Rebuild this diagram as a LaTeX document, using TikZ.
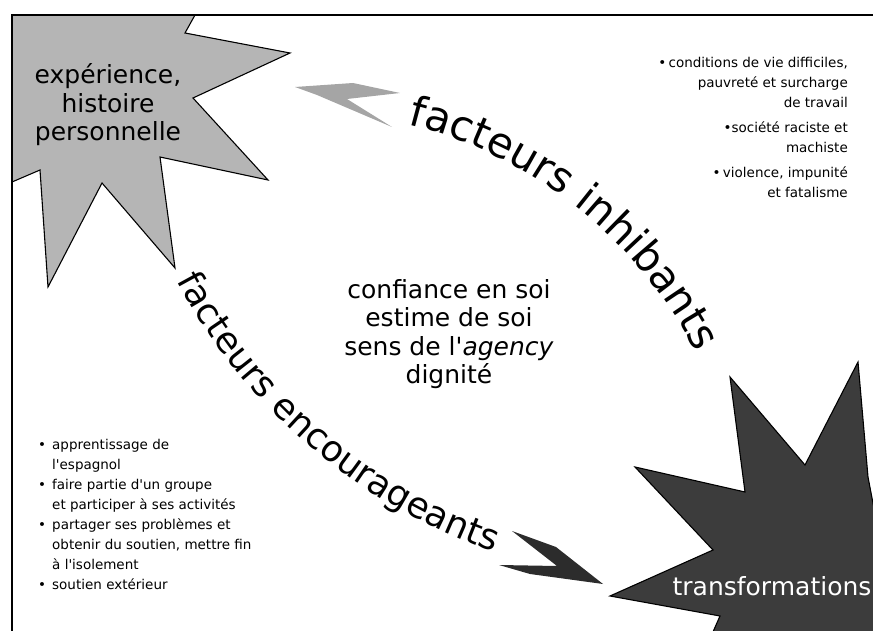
\documentclass[tikz,border=0pt]{standalone}
\usepackage{fontspec}
\setmainfont{DejaVu Sans}
\usetikzlibrary{decorations.text}
\definecolor{starlight}{HTML}{B5B5B5}
\definecolor{stardark}{HTML}{3C3C3C}
\definecolor{chevlight}{HTML}{A5A5A5}
\definecolor{chevdark}{HTML}{2C2C2C}
\newcommand\apos{\textquotesingle}
\begin{document}
\begin{tikzpicture}[x=1pt,y=-1pt,
  bigtext/.style={font=\fontsize{25}{28.5}\selectfont, align=center, inner sep=0pt},
  listtext/.style={font=\fontsize{13.5}{20}\selectfont, inner sep=0pt},
  starline/.style={draw=black, line width=1.1pt, line join=miter},
  arctext/.style={decorate, decoration={text along path, text align=left, text={#1}}}
  ]
\useasboundingbox (0,0) rectangle (873,631);
\begin{scope}
\clip (0,0) rectangle (873,631);
% top-left star
\filldraw[starline, fill=starlight]
 (12,15) -- (195,15) -- (185,33) -- (290,53) -- (193,98) -- (268,180) -- (160,157)
 -- (175,268) -- (102,183) -- (48,287) -- (40,170) -- (12,182) -- cycle;
% bottom-right star
\filldraw[starline, fill=stardark]
 (858,362) -- (868,477) -- (880,540) -- (890,650) -- (705,650) -- (720,616) -- (610,596)
 -- (713,550) -- (635,467) -- (745,492) -- (730,377) -- (805,465) -- cycle;
\end{scope}
% chevrons
\fill[chevlight] (295,87) -- (353,83) -- (400,93) -- (347,99) -- (392,127) -- (317,95) -- cycle;
\fill[chevdark] (512,531) -- (556,547) -- (603,584) -- (530,574) -- (499,565) -- (557,566) -- cycle;
% frame
\draw[line width=1.5pt] (12,631) -- (12,15) -- (873,15);
% curved labels
\path[arctext={|\fontsize{42}{42}\selectfont|facteurs inhibants}]
  (300,557) ++(-76:446) arc[start angle=-76, end angle=-15, radius=446];
\path[arctext={|\fontsize{36}{36}\selectfont|facteurs encourageants}]
  (680,13) ++(152:570) arc[start angle=152, end angle=95, radius=570];
% texts
\node[bigtext] (exp) at (108,105) {expérience,\\histoire\\personnelle};
\node[bigtext] (core) at (449,334) {confiance en soi\\estime de soi\\sens de l\apos\textit{agency}\\dignité};
\node[bigtext, text=white, anchor=base] (trans) at (772,595) {transformations};
\node[listtext, anchor=north east] (inhib) at (848,53) {\begin{tabular}{@{}r@{}}
•\,conditions de vie difficiles,\\
pauvreté et surcharge\\
de travail\\[5pt]
•société raciste et\\
machiste\\[5pt]
•\,violence, impunité\\
et fatalisme
\end{tabular}};
\node[listtext, anchor=north west] (encour) at (38,435) {\begin{tabular}{@{}p{14pt}@{}l@{}}
•&apprentissage de\\
&l\apos espagnol\\
•&faire partie d\apos un groupe\\
&et participer à ses activités\\
•&partager ses problèmes et\\
&obtenir du soutien, mettre fin\\
&à l\apos isolement\\
•&soutien extérieur
\end{tabular}};
\end{tikzpicture}
\end{document}
